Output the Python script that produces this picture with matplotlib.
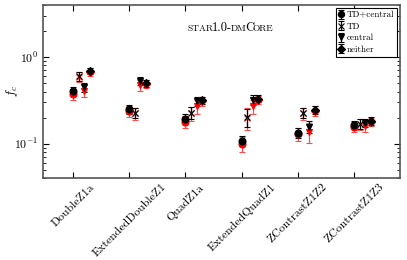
import numpy as np
import matplotlib
matplotlib.use("Agg")
import matplotlib.pyplot as plt

plt.rcParams["font.family"] = "serif"
plt.rcParams["font.serif"] = ["cmr10", "DejaVu Serif"]
plt.rcParams["mathtext.fontset"] = "cm"
plt.rcParams["axes.unicode_minus"] = False
plt.rcParams["axes.formatter.use_mathtext"] = True

# %%
labels = ["DoubleZ1a", "ExtendedDoubleZ1", "QuadZ1a", "ExtendedQuadZ1",
          "ZContrastZ1Z2", "ZContrastZ1Z3"]

# black points
td_central = [0.41, 0.25, 0.194, 0.108, 0.133, 0.165]
td = [0.60, 0.227, 0.227, 0.204, 0.227, 0.17]
central = [0.45, 0.53, 0.31, 0.32, 0.157, 0.174]
neither = [0.69, 0.50, 0.32, 0.33, 0.246, 0.184]
td_central_err = [0.045, 0.03, 0.025, 0.015, 0.018, 0.017]
td_err = [0.07, 0.03, 0.035, 0.05, 0.03, 0.022]
central_err = [0.05, 0.06, 0.04, 0.04, 0.025, 0.02]
neither_err = [0.06, 0.045, 0.03, 0.03, 0.025, 0.018]

# red points
td_central_r = [0.37, 0.24, 0.18, 0.10, 0.13, 0.157]
td_r = [0.59, 0.225, 0.225, 0.20, 0.225, 0.168]
central_r = [0.41, 0.48, 0.27, 0.27, 0.137, 0.16]
neither_r = [0.67, 0.49, 0.31, 0.32, 0.24, 0.18]
td_central_rerr = [0.05, 0.035, 0.03, 0.02, 0.022, 0.02]
td_rerr = [0.08, 0.035, 0.04, 0.055, 0.035, 0.025]
central_rerr = [0.06, 0.07, 0.05, 0.05, 0.035, 0.025]
neither_rerr = [0.07, 0.05, 0.035, 0.035, 0.03, 0.02]

# %%
series = [
    ("TD+central", "o", td_central, td_central_err, td_central_r, td_central_rerr),
    ("TD", "x", td, td_err, td_r, td_rerr),
    ("central", "v", central, central_err, central_r, central_rerr),
    ("neither", "D", neither, neither_err, neither_r, neither_rerr),
]

fig = plt.figure(figsize=(4.07, 2.60), dpi=100)
ax = fig.add_axes([0.106, 0.315, 0.877, 0.666])

x = np.arange(len(labels))
handles = []
for i, (name, mk, yb, eb, yr, er) in enumerate(series):
    xs = x + 0.1 * i
    ms = 4 if mk == "D" else 5
    ax.errorbar(xs, yr, yerr=er, fmt=mk, color="red", ms=ms, mew=0.8,
                elinewidth=0.9, capsize=2, capthick=0.8, ecolor=(1, 0.3, 0.3))
    h = ax.errorbar(xs, yb, yerr=eb, fmt=mk, color="black", ms=ms, mew=0.8,
                    elinewidth=0.9, capsize=2, capthick=0.8, label=name)
    handles.append(h)

ax.set_yscale("log")
ax.set_ylim(0.04, 4)
ax.set_xlim(-0.53, 5.82)
ax.set_xticks(x)
ax.set_xticklabels(labels, rotation=45, ha="center", fontsize=8.3)
ax.set_ylabel(r"$f_c$", fontsize=9)
ax.yaxis.set_label_coords(-0.065, 0.5)
ax.tick_params(which="both", direction="in", top=True, right=True, labelsize=8.5)
ax.tick_params(axis="x", pad=3)
ax.tick_params(which="major", length=4)
ax.tick_params(which="minor", length=2)
for s in ax.spines.values():
    s.set_color("#555555")
    s.set_linewidth(1.2)

leg = ax.legend(handles=handles, loc="upper right", fontsize=6.5, fancybox=False,
                framealpha=1, edgecolor="black", handlelength=0.5,
                handletextpad=0.4, borderaxespad=0.35, labelspacing=0.35,
                borderpad=0.3, markerscale=0.9)
leg.get_frame().set_linewidth(0.8)

# small caps title built from pieces, placed one after another on one baseline
pieces = [("STAR", 6.8), ("1.0-", 9), ("DM", 6.8), ("C", 9), ("ORE", 6.8)]
fig.canvas.draw()
renderer = fig.canvas.get_renderer()
x0, y0 = ax.transAxes.transform((0.405, 0.85))
for txt, fs in pieces:
    t = fig.text(x0 / fig.bbox.width, y0 / fig.bbox.height, txt, fontsize=fs,
                 va="baseline", ha="left")
    x0 = t.get_window_extent(renderer).x1 - 1.5

fig.savefig("out.png", dpi=100)
